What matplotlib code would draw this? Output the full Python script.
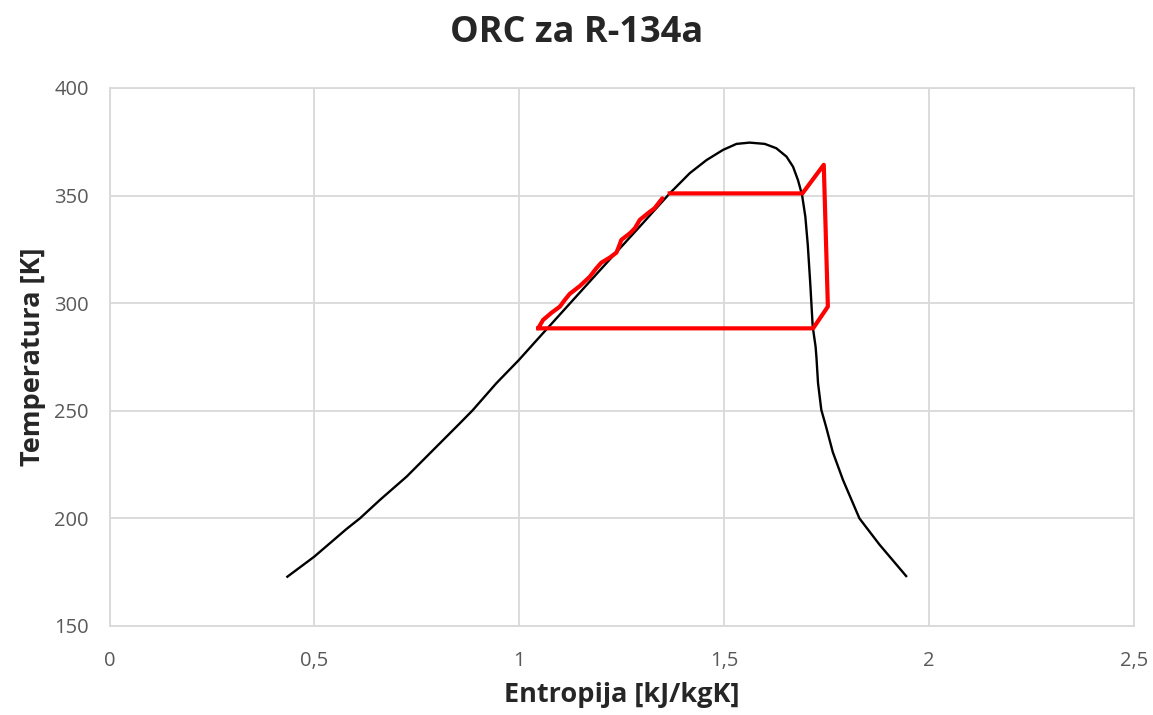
import matplotlib.pyplot as plt

# saturation dome (entropy kJ/kgK, temperature K)
sat_s = [0.434, 0.4995, 0.5785, 0.611, 0.660, 0.725, 0.790, 0.855, 0.886, 0.944,
         0.999, 1.050, 1.204, 1.294, 1.367, 1.416, 1.457, 1.497, 1.530, 1.562,
         1.599, 1.627, 1.652, 1.668, 1.680, 1.690, 1.698, 1.704, 1.710, 1.716,
         1.723, 1.725, 1.729, 1.737, 1.748, 1.765, 1.790, 1.830, 1.879, 1.944]
sat_T = [172.9, 182.2, 195.1, 200.0, 208.6, 219.4, 231.8, 244.2, 250.2, 262.8,
         273.6, 284.4, 316.8, 335.6, 351.0, 360.4, 366.5, 371.2, 374.0, 374.6,
         374.0, 372.0, 368.1, 363.4, 357.2, 350.3, 340.2, 327.0, 309.2, 289.1,
         279.8, 275.1, 262.8, 250.4, 243.0, 230.8, 217.8, 200.0, 187.8, 173.2]

# ORC cycle: pump / preheating (wavy) part
heat_s = [1.046, 1.058, 1.079, 1.099, 1.111, 1.123, 1.148, 1.172, 1.188, 1.200,
          1.221, 1.237, 1.243, 1.249, 1.270, 1.282, 1.294, 1.314, 1.330, 1.349]
heat_T = [288.3, 292.2, 295.6, 298.4, 301.5, 304.3, 308.0, 312.3, 316.2, 318.8,
          321.2, 323.5, 326.3, 329.4, 332.5, 334.8, 338.7, 341.8, 344.1, 348.7]

# evaporation, superheat, expansion, condensation
cyc_s = [1.367, 1.691, 1.743, 1.753, 1.717, 1.046]
cyc_T = [351.0, 351.0, 364.3, 298.4, 288.3, 288.3]

x_ticks = [0, 0.5, 1, 1.5, 2, 2.5]
x_labels = ["0", "0,5", "1", "1,5", "2", "2,5"]
y_ticks = [150, 200, 250, 300, 350, 400]

plt.rcParams['font.family'] = ['Open Sans', 'DejaVu Sans']

fig = plt.figure(figsize=(11.53, 7.15), dpi=100)
ax = fig.add_axes([0.095, 0.1245, 0.8885, 0.7525])

ax.plot(sat_s, sat_T, color='black', lw=1.7, zorder=3, solid_joinstyle='round')
ax.plot(heat_s, heat_T, color='#ff0000', lw=3.0, zorder=4,
        solid_capstyle='round', solid_joinstyle='round')
ax.plot(cyc_s, cyc_T, color='#ff0000', lw=3.0, zorder=4)

ax.set_xlim(0, 2.5)
ax.set_ylim(150, 400)
ax.set_xticks(x_ticks, x_labels)
ax.set_yticks(y_ticks, [str(v) for v in y_ticks])
ax.tick_params(length=0, labelsize=14.5, colors='#595959')
ax.tick_params(axis='x', pad=18)
ax.tick_params(axis='y', pad=15)
ax.grid(True, color='#d9d9d9', lw=1.3)
ax.set_axisbelow(True)
for sp in ax.spines.values():
    sp.set_color('#d9d9d9')
    sp.set_linewidth(1.3)

ax.set_xlabel("Entropija [kJ/kgK]", fontsize=19.5, fontweight='bold', color='#262626')
ax.set_ylabel("Temperatura [K]", fontsize=19.5, fontweight='bold', color='#262626')
ax.xaxis.set_label_coords(0.5, -0.105)
ax.yaxis.set_label_coords(-0.062, 0.5)
fig.suptitle("ORC za R-134a", fontsize=26, fontweight='bold', color='#262626',
             y=0.941, va='baseline')

fig.savefig("out.png", dpi=100)
